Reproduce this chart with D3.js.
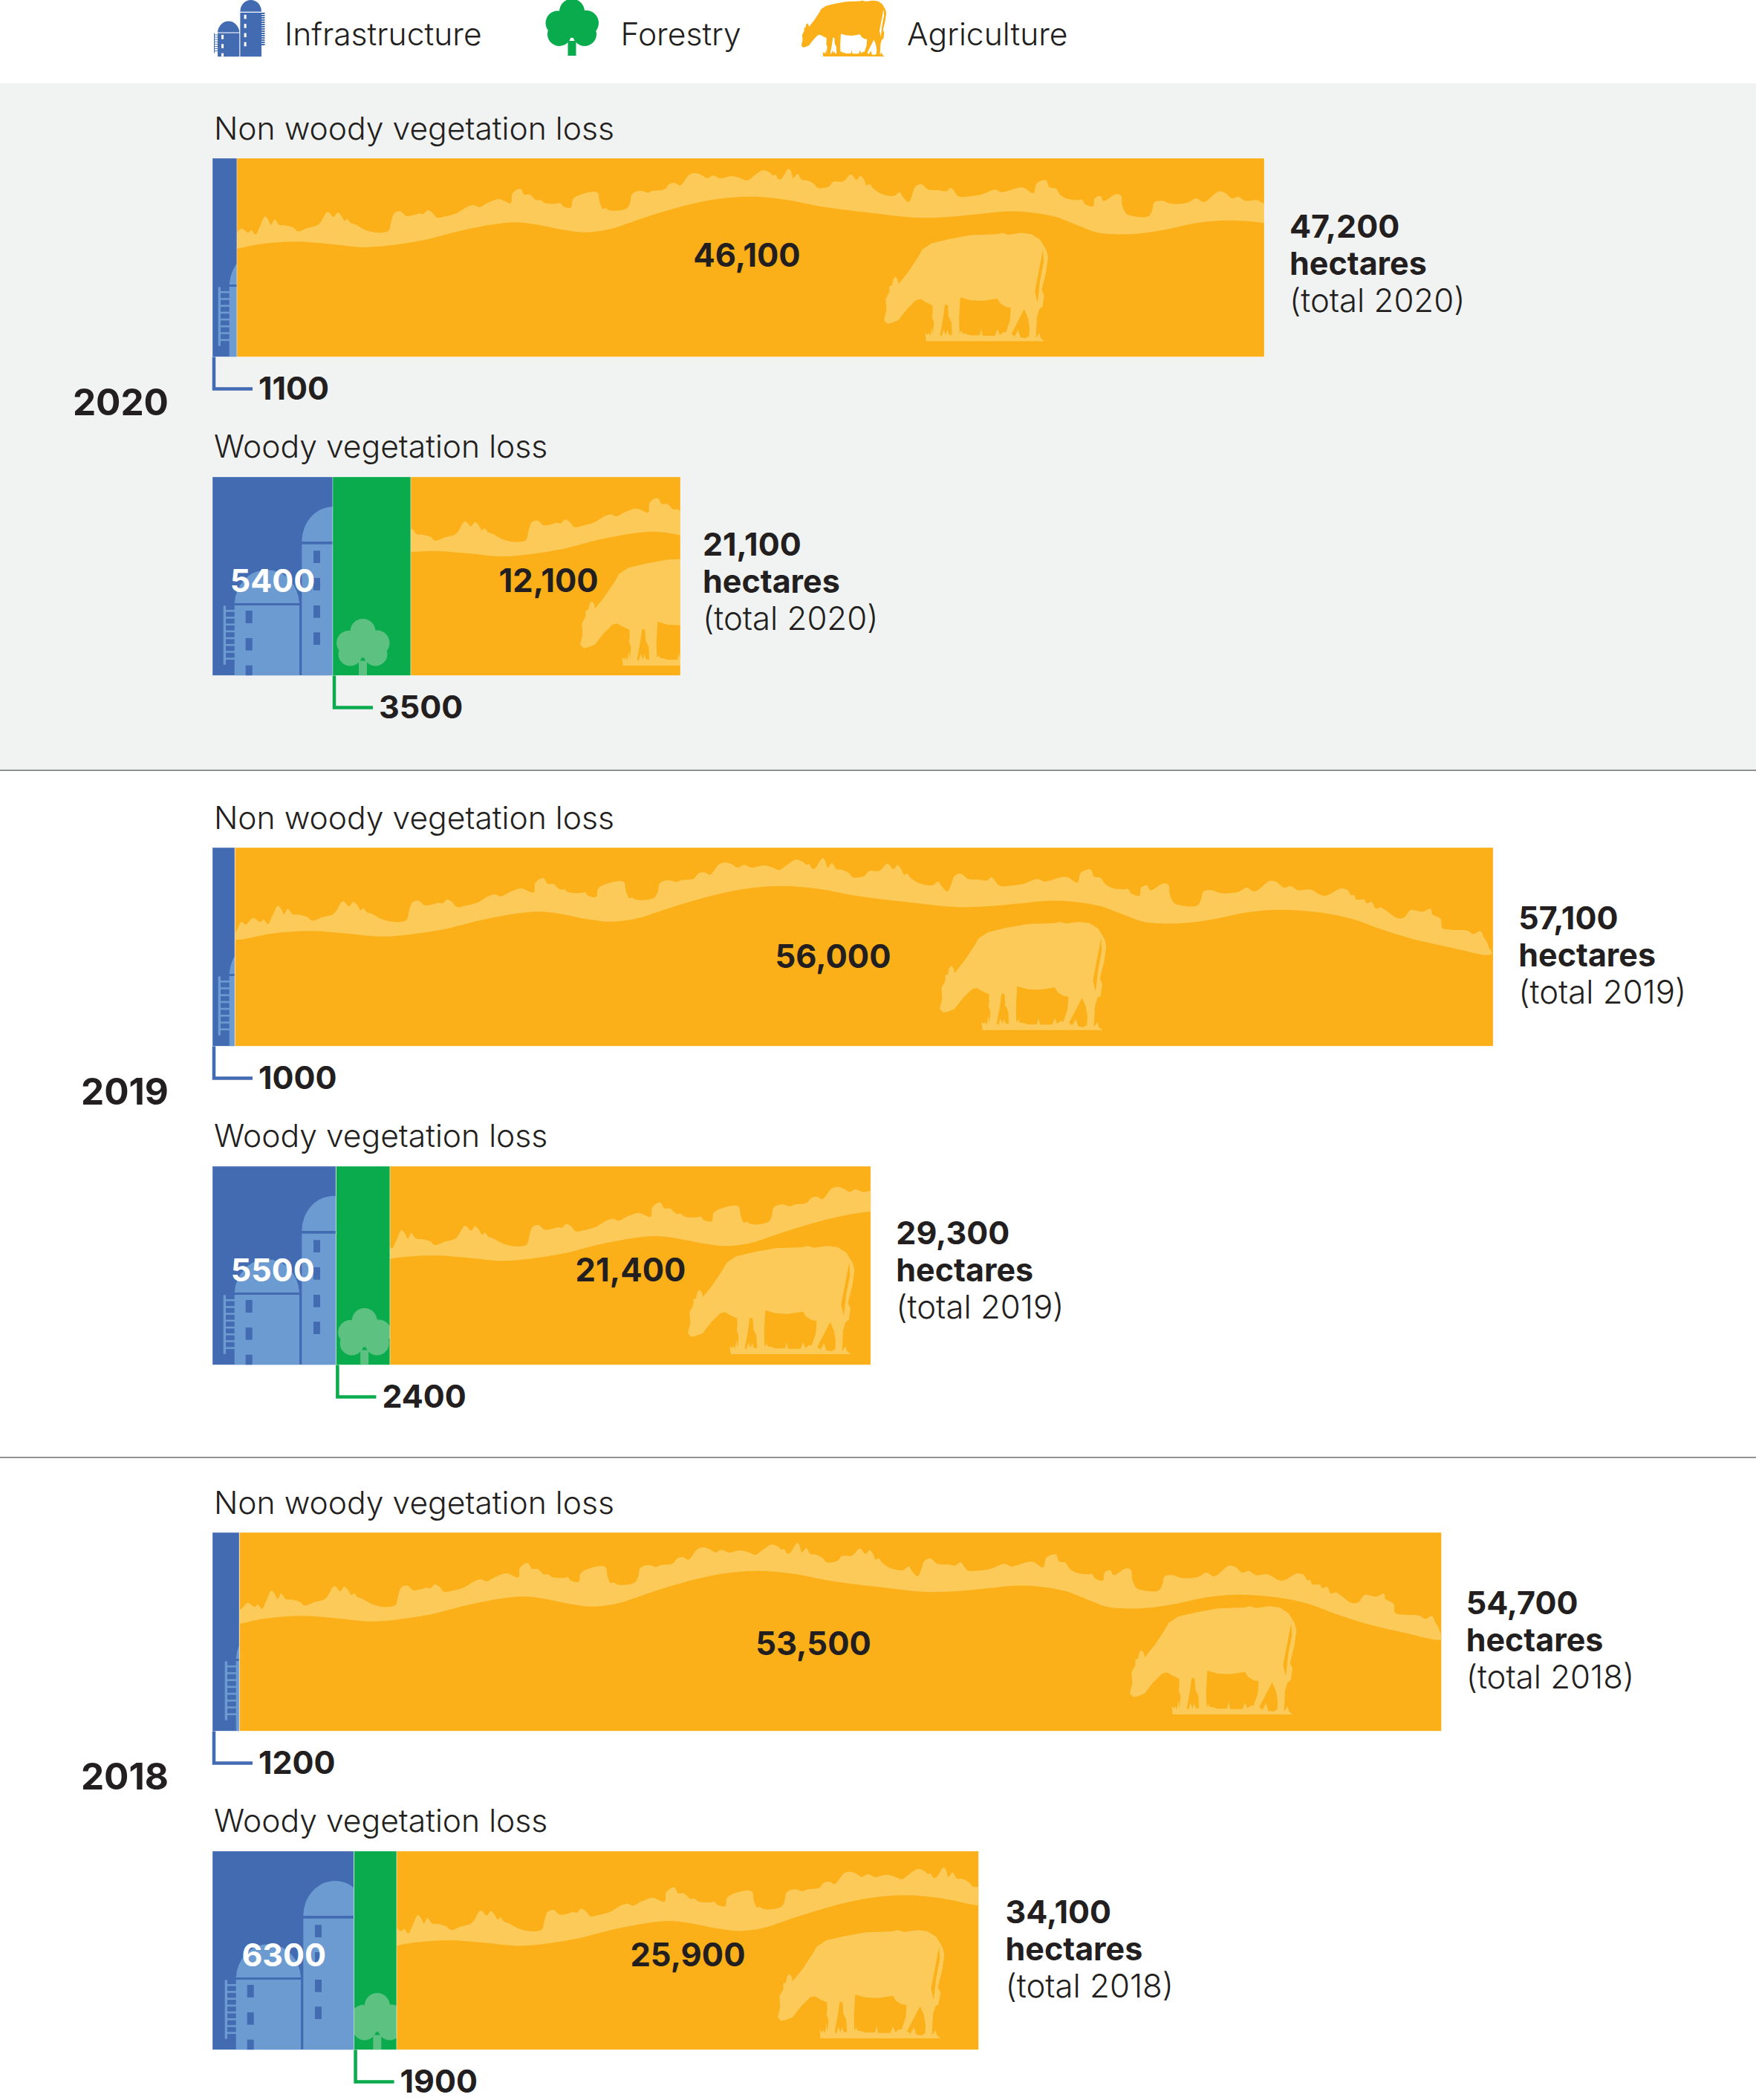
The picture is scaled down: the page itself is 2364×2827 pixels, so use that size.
<!DOCTYPE html>
<html>
<head>
<meta charset="utf-8">
<script src="https://cdn.jsdelivr.net/npm/d3@7"></script>
<style>
body { margin: 0; background: #fff; }
text { font-family: "Inter", "Noto Sans", sans-serif; fill: #231f20; }
.light { font-weight: 300; }
.bold { font-weight: 700; }
</style>
</head>
<body>
<svg id="chart" width="2364" height="2827"></svg>
<script>
// values, one entry per bar, top to bottom
var years = [2020, 2019, 2018];
var rowNames = ["Non woody vegetation loss", "Woody vegetation loss"];
var infrastructure = [1100, 5400, 1000, 5500, 1200, 6300];
var forestry = [0, 3500, 0, 2400, 0, 1900];
var agriculture = [46100, 12100, 56000, 21400, 53500, 25900];
var totals = [47200, 21100, 57100, 29300, 54700, 34100];
var legendNames = ["Infrastructure", "Forestry", "Agriculture"];

var blue = "#436bb2", lightBlue = "#6c9bd2", green = "#09ab4d", lightGreen = "#5dc281",
	orange = "#fbb01a", lightOrange = "#fbca58", band = "#f1f3f2";

// layout of each bar
var barLeft = 286, barHeight = 267.5;
var rowTop = [213, 642, 1141, 1570, 2063, 2492];
var yearWidth = [1800, 1815, 1815]; // pixels for 60,000 ha, the 2020 art is a bit tighter
var agriLabelX = [1005.5, 738.6, 1121.5, 849, 1095, 926];
var agriLabelY = [359, 797, 1303, 1725, 2228, 2647];
var infraDx = [0, -1, 0, -3, 0, 0];
var totalDx = [35, 31, 35, 35, 34, 37];
var totalDy = [107, 105.5, 110, 105, 110, 97];
var hillLeft = [316, 546, 316, 525.6, 323, 535.5];
var hillStart = [15.6, 62.5, 0, 42.6, 14, 30];
var hillStretch = [0.961, 0.961, 1, 0.974, 0.965, 0.965];
var hillDy = [0, -12.6, 0, 7.7, 0, 7.7];
var cowX = [1189, 780, 1264, 925, 1520, 1046];
var cowBottom = [459.3, 896, 1386.7, 1823, 2308, 2744];
var cowStretch = [0.985, 1, 1, 1, 1, 1];
var siloDx = [-9, -2, -9, -2, 0, 0];
var treeDx = [0, -12, 0, 2, 0, 2.5];

function crop5(p) { return [p[0] / 3 - 6, p[1] / 3 - 1]; }
function crop6(p) { return [504 + p[0] / 3, p[1] / 3 - 1]; }
function crop7(p) { return [1014 + p[0] / 2.24, p[1] / 3 - 1]; }

var crestA = [[18,360],[30,330],[45,303],[62,314],[92,287],[122,303],[135,294],[152,312],[170,280],[192,238],[205,250],[218,272],[232,250],[252,272],[275,274],[310,283],[330,298],[370,285],[418,270],[455,220],[480,240],[497,222],[510,232],[527,256],[537,248],[552,264],[570,270],[620,295],[680,304],[712,295],[722,260],[735,225],[760,217],[785,236],[820,232],[840,226],[858,228],[875,213],[895,222],[915,243],[950,238],[1000,224],[1040,200],[1070,192],[1092,200],[1130,182],[1175,168],[1225,184],[1232,145],[1265,126],[1282,150],[1305,150],[1332,172],[1350,172],[1365,183],[1420,186],[1432,183],[1445,197],[1478,202],[1485,170],[1503,156]];
var crestB = [[45,138],[62,145],[68,178],[82,208],[92,204],[108,213],[150,214],[185,203],[197,180],[205,147],[240,134],[272,142],[290,135],[342,128],[360,108],[385,103],[407,113],[445,70],[470,63],[495,70],[520,84],[545,73],[575,84],[625,75],[660,84],[688,93],[720,72],[755,52],[785,62],[795,72],[808,70],[820,88],[832,86],[862,46],[872,55],[882,84],[900,66],[918,90],[940,92],[970,107],[985,123],[1030,118],[1050,98],[1090,97],[1125,68],[1148,90],[1165,74],[1180,90],[1190,112],[1205,108],[1215,122],[1255,148],[1305,155],[1330,140],[1340,155],[1367,180],[1382,150],[1395,118],[1420,108],[1450,130],[1490,132],[1525,136],[1545,123]];
var crestC = [[35,157],[60,158],[105,150],[150,130],[170,140],[235,121],[270,144],[280,105],[310,92],[320,120],[340,125],[352,148],[372,165],[410,172],[422,170],[432,188],[457,197],[462,165],[480,156],[490,175],[530,148],[545,155],[548,190],[560,225],[575,235],[630,238],[642,215],[650,180],[675,175],[702,187],[755,182],[780,165],[805,180],[850,137],[870,142],[893,165],[912,158],[935,175],[970,172],[1015,198],[1065,168],[1085,175],[1095,195],[1105,195],[1110,212],[1135,214],[1142,228],[1157,222],[1170,250],[1185,245],[1235,288],[1255,285],[1275,255],[1310,262],[1335,250],[1340,272],[1365,290],[1370,328],[1400,335],[1445,338],[1465,352],[1485,340],[1495,365],[1505,385],[1510,405],[1520,430]];
var baseC = [[1510,437],[1400,408],[1270,368],[1180,330],[1100,292],[1000,265],[880,254],[780,265],[670,295],[570,310],[470,303],[420,280],[340,240],[260,222],[180,218],[100,228],[0,240]];
var baseB = [[1400,243],[1220,225],[1000,198],[850,170],[700,158],[560,168],[420,196],[250,245],[100,292],[0,302]];
var baseA = [[1450,293],[1250,262],[1040,290],[850,335],[620,362],[470,350],[320,340],[170,350],[20,373]];

var hillPoints = crestA.map(crop5).concat(crestB.map(crop6), crestC.map(crop7), baseC.map(crop7), baseB.map(crop6), baseA.map(crop5));

// cow traced at 3x, outline then the gaps between the legs and the tail slit
var cowOutline = [[75,385],[90,400],[110,395],[135,385],[150,365],[170,340],[205,305],[225,300],[245,312],[274,325],[275,355],[272,372],[280,395],[276,445],[272,412],[265,450],[258,435],[255,445],[244,437],[248,470],[733,470],[718,458],[712,437],[698,458],[702,375],[712,340],[725,332],[732,285],[722,262],[740,190],[748,130],[740,100],[715,60],[680,38],[640,33],[585,40],[560,33],[540,38],[430,42],[340,58],[270,75],[232,100],[215,130],[175,190],[135,240],[132,222],[122,210],[113,220],[108,245],[97,248],[98,270],[82,300],[85,345]];
var cowGaps = [
	[[388,293],[430,305],[480,307],[540,298],[552,318],[575,332],[595,335],[592,385],[575,435],[565,433],[550,445],[540,422],[530,448],[480,448],[474,420],[468,446],[430,447],[410,440],[400,440],[392,430],[408,415],[390,430],[385,440],[383,380]],
	[[325,322],[337,325],[340,370],[352,395],[354,445],[342,445],[335,425],[328,445],[320,422],[312,450],[305,445],[318,375]],
	[[650,340],[665,375],[672,415],[670,450],[655,458],[635,455],[625,425],[610,452],[598,440]],
	[[727,100],[730,150],[715,225],[705,315],[694,270]]
];

var svg = d3.select("#chart");
var defs = svg.append("defs");
var smooth = d3.line().curve(d3.curveCatmullRomClosed.alpha(0.5));
var straight = d3.line().x(function(d) { return d[0] / 3; }).y(function(d) { return d[1] / 3; }).curve(d3.curveLinearClosed);
var hillPath = smooth(hillPoints);
var cowPath = straight(cowOutline) + cowGaps.map(function(g) { return straight(g); }).join("");

function drawCow(g, colour) {
	g.append("path").attr("d", cowPath).attr("fill", colour).attr("fill-rule", "evenodd");
}

function drawTree(g, colour) {
	g.append("rect").attr("x", -5.5).attr("y", -20).attr("width", 11).attr("height", 20).attr("fill", colour);
	var lobes = [[0, -59.5, 17], [-19, -44, 16.5], [19, -44, 17], [-17, -29, 16], [17, -29, 16], [0, -38, 14]];
	lobes.forEach(function(l) {
		g.append("circle").attr("cx", l[0]).attr("cy", l[1]).attr("r", l[2]).attr("fill", colour);
	});
}

function drawSilo(g, body, detail) {
	g.append("path").attr("d", "M31.7,170A43.7,47 0 0 1 119,170Z").attr("fill", body);
	g.append("rect").attr("x", 31.7).attr("y", 173).attr("width", 87.3).attr("height", 94.5).attr("fill", body);
	g.append("path").attr("d", "M122.3,87A42.7,47 0 0 1 207.7,87Z").attr("fill", body);
	g.append("rect").attr("x", 122.3).attr("y", 90.7).attr("width", 85.4).attr("height", 176.8).attr("fill", body);
	var windows = [[138, 99.3, 16.7], [138, 136, 16.7], [138, 173, 16.7], [138, 209.3, 16.7], [46.7, 180, 17], [46.7, 217, 16.7], [46.7, 253.7, 13.8]];
	windows.forEach(function(w) {
		g.append("rect").attr("x", w[0]).attr("y", w[1]).attr("width", 9).attr("height", w[2]).attr("fill", detail);
	});
	g.append("rect").attr("x", 16.7).attr("y", 173).attr("width", 3.3).attr("height", 80).attr("rx", 1.6).attr("fill", body);
	d3.range(8).forEach(function(i) {
		g.append("rect").attr("x", 20).attr("y", 179 + i * 9.2).attr("width", 12).attr("height", 2.6).attr("fill", body);
	});
}

// grey band behind 2020 and the rules between the years
svg.append("rect").attr("x", 0).attr("y", 112).attr("width", 2364).attr("height", 925).attr("fill", band);
[1037, 1962].forEach(function(y) {
	svg.append("line").attr("x1", 0).attr("x2", 2364).attr("y1", y).attr("y2", y).attr("stroke", "#6d6e71").attr("stroke-width", 1.5);
});

// legend
var legendX = [383, 835.5, 1221];
svg.selectAll(".legend").data(legendNames).join("text")
	.attr("class", "legend light")
	.attr("x", function(d, i) { return legendX[i]; })
	.attr("y", 60.7)
	.attr("font-size", 42.6)
	.text(function(d) { return d; });
drawSilo(svg.append("g").attr("transform", "translate(282.4,-13.4) scale(0.335)"), blue, "#fff");
svg.append("line").attr("x1", 354).attr("x2", 354).attr("y1", 17).attr("y2", 62)
	.attr("stroke", blue).attr("stroke-width", 5).attr("stroke-dasharray", "2 1");
drawTree(svg.append("g").attr("transform", "translate(770,75)"), green);
drawCow(svg.append("g").attr("transform", "translate(1066,-5) scale(0.51,0.517)"), orange);

// bars
var table = infrastructure.map(function(d, i) {
	return { infrastructure: d, forestry: forestry[i], agriculture: agriculture[i] };
});
var stacked = d3.stack().keys(["infrastructure", "forestry", "agriculture"])(table);
var fills = { infrastructure: blue, forestry: green, agriculture: orange };
var formatBig = d3.format(",");
function formatValue(v) { return v >= 10000 ? formatBig(v) : String(v); }

var scales = years.map(function(y, i) {
	return d3.scaleLinear().domain([0, 60000]).range([barLeft, barLeft + yearWidth[i]]);
});

table.forEach(function(row, i) {
	var x = scales[Math.floor(i / 2)];
	var top = rowTop[i], bottom = top + barHeight;
	var woody = i % 2 === 1;

	svg.append("text").attr("class", "light").attr("x", 288).attr("y", top - (woody ? 26.5 : 25)).attr("font-size", 42.6).text(rowNames[i % 2]);

	stacked.forEach(function(layer) {
		var x0 = x(layer[i][0]), x1 = x(layer[i][1]);
		if (x1 <= x0) return;
		var id = "clip-" + layer.key + "-" + i;
		defs.append("clipPath").attr("id", id).append("rect").attr("x", x0).attr("y", top).attr("width", x1 - x0).attr("height", barHeight);
		var g = svg.append("g").attr("clip-path", "url(#" + id + ")");
		g.append("rect").attr("x", x0).attr("y", top).attr("width", x1 - x0).attr("height", barHeight).attr("fill", fills[layer.key]);
		if (layer.key === "infrastructure") {
			drawSilo(g.append("g").attr("transform", "translate(" + (barLeft + siloDx[i]) + "," + top + ")"), lightBlue, blue);
		}
		if (layer.key === "forestry") {
			drawTree(g.append("g").attr("transform", "translate(" + ((x0 + x1) / 2 + treeDx[i]) + "," + bottom + ")"), lightGreen);
		}
		if (layer.key === "agriculture") {
			g.append("path").attr("d", hillPath).attr("fill", lightOrange)
				.attr("transform", "translate(" + (hillLeft[i] - hillStart[i] * hillStretch[i]) + "," + (top + hillDy[i]) + ") scale(" + hillStretch[i] + ",1)");
			drawCow(g.append("g").attr("transform", "translate(" + (cowX[i] - 24 * cowStretch[i]) + "," + (cowBottom[i] - 156.7) + ") scale(" + cowStretch[i] + ",1)"), lightOrange);
		}
		// thin pale edge round each piece
		svg.append("rect").attr("x", x0).attr("y", top).attr("width", x1 - x0).attr("height", barHeight)
			.attr("fill", "none").attr("stroke", "#fff").attr("stroke-opacity", 0.35).attr("stroke-width", 1);
	});

	// value inside the agriculture piece
	svg.append("text").attr("class", "bold").attr("x", agriLabelX[i]).attr("y", agriLabelY[i]).attr("text-anchor", "middle").attr("font-size", 43.5).text(formatValue(row.agriculture));

	// infrastructure goes inside on woody bars, on a leader line otherwise
	if (woody) {
		var mid = (x(0) + x(row.infrastructure)) / 2 + 1 + infraDx[i];
		svg.append("text").attr("class", "bold").attr("x", mid).attr("y", top + 154.5).attr("text-anchor", "middle").attr("font-size", 43).style("fill", "#fff").text(formatValue(row.infrastructure));
	}
	var leadX = woody ? x(row.infrastructure) + 2 : barLeft + 2;
	var leadColour = woody ? green : blue;
	var leadValue = woody ? row.forestry : row.infrastructure;
	svg.append("path")
		.attr("d", "M" + leadX + "," + bottom + "V" + (bottom + 43) + "H" + (leadX + 52))
		.attr("fill", "none").attr("stroke", leadColour).attr("stroke-width", 4.5);
	svg.append("text").attr("class", "bold").attr("x", leadX + 60).attr("y", bottom + 57).attr("font-size", 43).text(formatValue(leadValue));

	// total to the right of the bar
	var endX = x(row.infrastructure + row.forestry + row.agriculture) + totalDx[i];
	var y0 = top + totalDy[i];
	svg.append("text").attr("class", "bold").attr("x", endX - 1).attr("y", y0).attr("font-size", 43).text(formatBig(totals[i]));
	svg.append("text").attr("class", "bold").attr("x", endX - 1).attr("y", y0 + 50).attr("font-size", 43).text("hectares");
	svg.append("text").attr("class", "light").attr("x", endX - 1).attr("y", y0 + 100).attr("font-size", 43.7).text("(total " + years[Math.floor(i / 2)] + ")");
});

// year labels
svg.selectAll(".year").data(years).join("text")
	.attr("class", "year bold")
	.attr("x", 227)
	.attr("y", function(d, i) { return rowTop[i * 2] + 346; })
	.attr("text-anchor", "end")
	.attr("font-size", 49.5)
	.text(function(d) { return d; });
</script>
</body>
</html>
